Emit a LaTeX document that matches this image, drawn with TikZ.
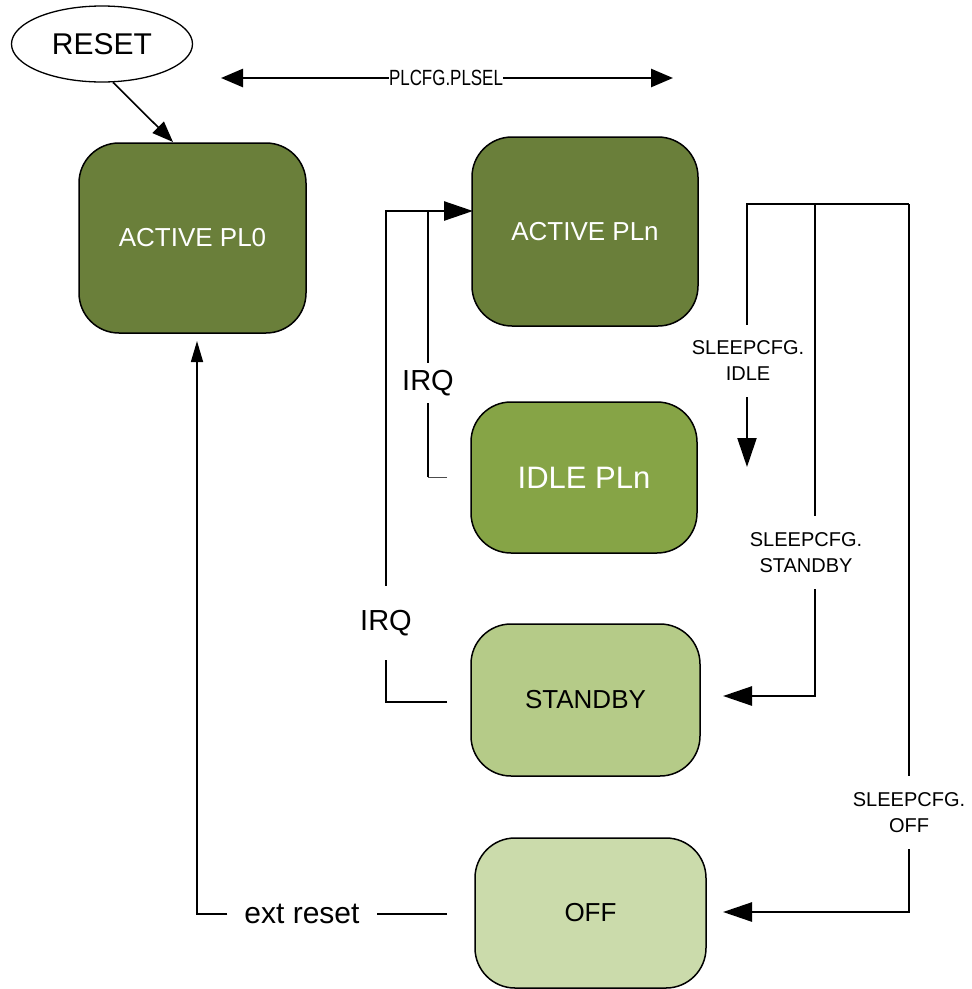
\documentclass[tikz,border=0pt]{standalone}
\usepackage{fontspec}
\setmainfont{Liberation Sans}
\newfontfamily\narrowfont[FakeStretch=0.77]{Liberation Sans}
\usetikzlibrary{shapes.geometric,arrows.meta}
\definecolor{actcol}{HTML}{6A7F3A}
\definecolor{idlecol}{HTML}{86A446}
\definecolor{stbycol}{HTML}{B5CB88}
\definecolor{offcol}{HTML}{CBDBAB}
\tikzset{
  statebox/.style={draw=black, line width=1.5pt, rounded corners=40pt, inner sep=0pt, align=center},
  lbl/.style={inner sep=0pt, align=center},
  sleeplbl/.style={lbl, font=\fontsize{20}{26}\selectfont},
  irqlbl/.style={lbl, font=\fontsize{29}{32}\selectfont},
  boxfont/.style={font=\fontsize{26}{29}\selectfont},
  thickline/.style={line width=2.6pt},
  midline/.style={line width=2.2pt},
  thinline/.style={line width=1.6pt},
  bighead/.style={-{Triangle[length=29pt,width=19pt]}},
  smallhead/.style={-{Triangle[length=21pt,width=12pt]}},
}
\begin{document}
\begin{tikzpicture}[x=1pt,y=-1pt]
\useasboundingbox (0,0) rectangle (972,989);

% states
\node[ellipse, draw=black, line width=1.3pt, minimum width=181pt, minimum height=76pt, inner sep=0pt, font=\fontsize{30}{34}\selectfont] (reset) at (102,44) {RESET};
\node[statebox, boxfont, fill=actcol, minimum width=227pt, minimum height=190pt, text=white] (pl0) at (192.5,238) {ACTIVE PL0};
\node[statebox, boxfont, fill=actcol, minimum width=226pt, minimum height=189pt, text=white] (pln) at (585,231.5) {ACTIVE PLn};
\node[statebox, fill=idlecol, minimum width=226pt, minimum height=151pt, text=white, font=\fontsize{31}{34}\selectfont] (idle) at (584,477.5) {IDLE PLn};
\node[statebox, boxfont, fill=stbycol, minimum width=229pt, minimum height=152pt] (stby) at (585.5,700) {STANDBY};
\node[statebox, boxfont, fill=offcol, minimum width=231pt, minimum height=150pt] (off) at (590.5,913) {OFF};

% labels
\node[lbl, font=\narrowfont\fontsize{22}{24}\selectfont] (plsel) at (446,78) {PLCFG.PLSEL};
\node[irqlbl, minimum height=74pt] (irq2) at (386,623) {IRQ};
\node[irqlbl, minimum height=40pt] (irq1) at (428,383) {IRQ};
\node[sleeplbl, minimum height=72pt] (sidle) at (748,361) {SLEEPCFG.\\IDLE};
\node[sleeplbl, minimum height=73pt] (sstby) at (806,552.5) {SLEEPCFG.\\STANDBY};
\node[sleeplbl, minimum height=73pt] (soff) at (909,812.5) {SLEEPCFG.\\OFF};
\node[lbl, inner xsep=17pt, font=\fontsize{30}{33}\selectfont] (ext) at (302,914) {ext reset};

% coordinates
\coordinate (rin) at (173,142);
\coordinate (pa) at (221,78);
\coordinate (pb) at (673,78);
\coordinate (pin) at (473,211);
\coordinate (irqA) at (447,702);
\coordinate (irqB) at (386,702);
\coordinate (idA) at (447,477);
\coordinate (idB) at (428,477);
\coordinate (t1) at (747,204);
\coordinate (t2) at (815,204);
\coordinate (t3) at (909,204);
\coordinate (idleTip) at (747,467);
\coordinate (sbin) at (723,696);
\coordinate (offin) at (723,912);
\coordinate (extA) at (447,914);
\coordinate (pl0in) at (197,341);

% RESET -> ACTIVE PL0
\draw[thinline, -{Triangle[length=21pt,width=16pt]}] (reset.-74) -- (rin);

% PLCFG.PLSEL double arrow
\draw[thickline, -{Triangle[length=22pt,width=18pt]}] (plsel.west) -- (pa);
\draw[thickline, -{Triangle[length=22pt,width=18pt]}] (plsel.east) -- (pb);

% IRQ from STANDBY
\draw[thickline] (irqA) -- (irqB) -- (irq2.south);
\draw[thickline, bighead] (irq2.north) |- (pin);

% IRQ from IDLE
\draw[line width=1pt, black!70] (idA) -- (idB);
\draw[midline] (idB) -- (irq1.south);
\draw[midline] (irq1.north) -- (irq1.north |- pin);

% SLEEPCFG branches
\draw[midline] (sidle.north -| t1) -- (t1) -- (t3);
\draw[midline, bighead] (sidle.south -| t1) -- (idleTip);
\draw[thickline] (t2) -- (t2 |- sstby.north);
\draw[thickline, bighead] (t2 |- sstby.south) |- (sbin);
\draw[line width=1.8pt] (t3) -- (soff.north);
\draw[thickline, bighead] (soff.south) |- (offin);

% ext reset
\draw[thinline] (extA) -- (ext.east);
\draw[thinline, smallhead] (ext.west) -| (pl0in);
\end{tikzpicture}
\end{document}
